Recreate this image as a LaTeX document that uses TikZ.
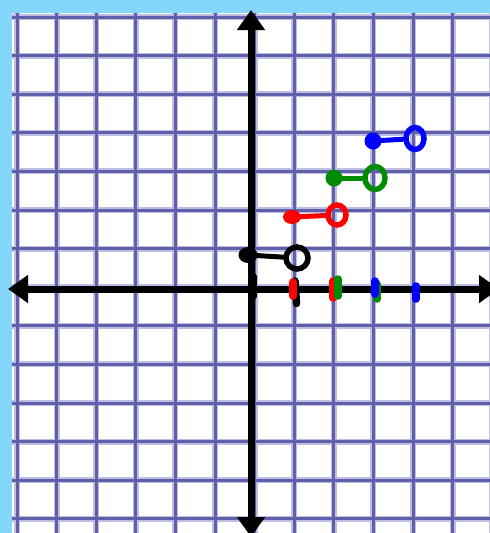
\documentclass[tikz,border=0pt]{standalone}
\usetikzlibrary{arrows.meta,shapes.geometric}
\definecolor{bgblue}{RGB}{132,214,250}
\definecolor{gridhalo}{RGB}{190,190,228}
\definecolor{gridcore}{RGB}{95,95,170}
\definecolor{stepgreen}{RGB}{0,140,0}
\tikzset{
  gridline halo/.style={gridhalo,line width=6},
  gridline core/.style={gridcore,line width=3},
  axisline/.style={black,line width=7,{Triangle[width=27pt,length=20pt]}-{Triangle[width=27pt,length=20pt]}},
  cdot/.style={circle,inner sep=0pt,minimum size=17pt},
  odot/.style={ellipse,inner sep=0pt,line width=5.5pt,fill=none},
  seg/.style={line width=5pt,line cap=round},
  tickmark/.style={line width=7.5pt,line cap=round}
}
\begin{document}
\begin{tikzpicture}[x=1pt,y=-1pt]
\useasboundingbox (0,0) rectangle (490,533);
\fill[bgblue] (0,0) rectangle (490,533);
\fill[white] (12,13) rectangle (490,533);
\begin{scope}
  \clip (12,13) rectangle (490,533);
  \foreach \k in {0,...,12} {
    \draw[gridline halo] ({17+39.6*\k},13) -- ++(0,520);
  }
  \foreach \k in {0,...,13} {
    \draw[gridline halo] (12,{17+38.6*\k}) -- ++(478,0);
  }
  \foreach \k in {0,...,12} {
    \draw[gridline core] ({17+39.6*\k},13) -- ++(0,520);
  }
  \foreach \k in {0,...,13} {
    \draw[gridline core] (12,{17+38.6*\k}) -- ++(478,0);
  }
\end{scope}
% axes
\coordinate (ybot) at (251,537);
\coordinate (ytop) at (251,10);
\coordinate (xleft) at (8,289);
\coordinate (xright) at (499,289);
\draw[axisline] (ybot) -- (ytop);
\draw[axisline] (xleft) -- (xright);
% tick marks
\draw[tickmark,black] (253,276.5) -- (253,296.5);
\draw[tickmark,black] (295,281) -- (296.5,303.5);
\draw[tickmark,red] (293,282) -- (293,296);
\draw[tickmark,red] (333,281) -- (333,298);
\draw[tickmark,stepgreen] (338,279) -- (338,296);
\draw[tickmark,stepgreen] (377,284) -- (377,299);
\draw[tickmark,blue] (375,281) -- (375,294);
\draw[tickmark,blue] (416,286) -- (416,299);
% step pieces
\node[cdot,fill=black,ellipse,minimum width=19pt,minimum height=16pt] (k0) at (248,255) {};
\node[odot,draw=black,minimum width=22pt,minimum height=22pt] (k1) at (297,258) {};
\draw[seg,black] (k0) -- (k1);
\node[cdot,fill=red,minimum width=18pt,minimum height=14pt,ellipse] (r0) at (292,217) {};
\node[odot,draw=red,minimum width=18pt,minimum height=20pt] (r1) at (337,215) {};
\draw[seg,red] (r0) -- (r1);
\node[cdot,fill=stepgreen] (g0) at (334,178) {};
\node[odot,draw=stepgreen,minimum width=20pt,minimum height=23pt] (g1) at (375,178) {};
\draw[seg,stepgreen] (g0) -- (g1);
\node[cdot,fill=blue] (b0) at (373,141) {};
\node[odot,draw=blue,minimum width=18pt,minimum height=22pt] (b1) at (415,138.5) {};
\draw[seg,blue] (b0) -- (b1);
\end{tikzpicture}
\end{document}
